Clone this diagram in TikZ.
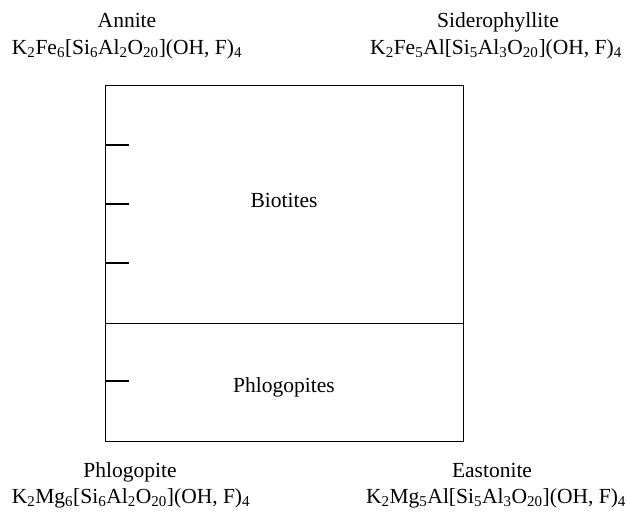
\documentclass[tikz,border=0pt]{standalone}
\usepackage{fontspec}
\setmainfont{Liberation Serif}
\newcommand{\sbs}[1]{\textsubscript{#1}}
\begin{document}
\begin{tikzpicture}[x=1pt,y=-1pt,
  lbl/.style={font=\fontsize{21.5}{27}\selectfont, inner sep=0pt, align=center, anchor=base},
  boxline/.style={line width=1pt},
  tick/.style={line width=1.3pt}]
\useasboundingbox (0,0) rectangle (627,515);
\coordinate (tl) at (105,85);
\coordinate (br) at (463,441);
\draw[boxline] (tl) rectangle (br);
\coordinate (dl) at (105,323);
\coordinate (dr) at (463,323);
\draw[boxline] (dl) -- (dr);
\foreach \y/\n in {145/a,204/b,263/c,381/d}{
  \coordinate (t\n1) at (105,\y);
  \coordinate (t\n2) at (129,\y);
  \draw[tick] (t\n1) -- (t\n2);
}
\node[lbl] (annite) at (127,27) {Annite};
\node[lbl] (annitef) at (127,54) {K\sbs{2}Fe\sbs{6}[Si\sbs{6}Al\sbs{2}O\sbs{20}](OH, F)\sbs{4}};
\node[lbl] (sid) at (498,27) {Siderophyllite};
\node[lbl] (sidf) at (496,54) {K\sbs{2}Fe\sbs{5}Al[Si\sbs{5}Al\sbs{3}O\sbs{20}](OH, F)\sbs{4}};
\node[lbl] (phl) at (130,477) {Phlogopite};
\node[lbl] (phlf) at (131,503) {K\sbs{2}Mg\sbs{6}[Si\sbs{6}Al\sbs{2}O\sbs{20}](OH, F)\sbs{4}};
\node[lbl] (eas) at (492,477) {Eastonite};
\node[lbl] (easf) at (496,503) {K\sbs{2}Mg\sbs{5}Al[Si\sbs{5}Al\sbs{3}O\sbs{20}](OH, F)\sbs{4}};
\node[lbl] (bio) at (284,207) {Biotites};
\node[lbl] (phls) at (284,392) {Phlogopites};
\end{tikzpicture}
\end{document}
